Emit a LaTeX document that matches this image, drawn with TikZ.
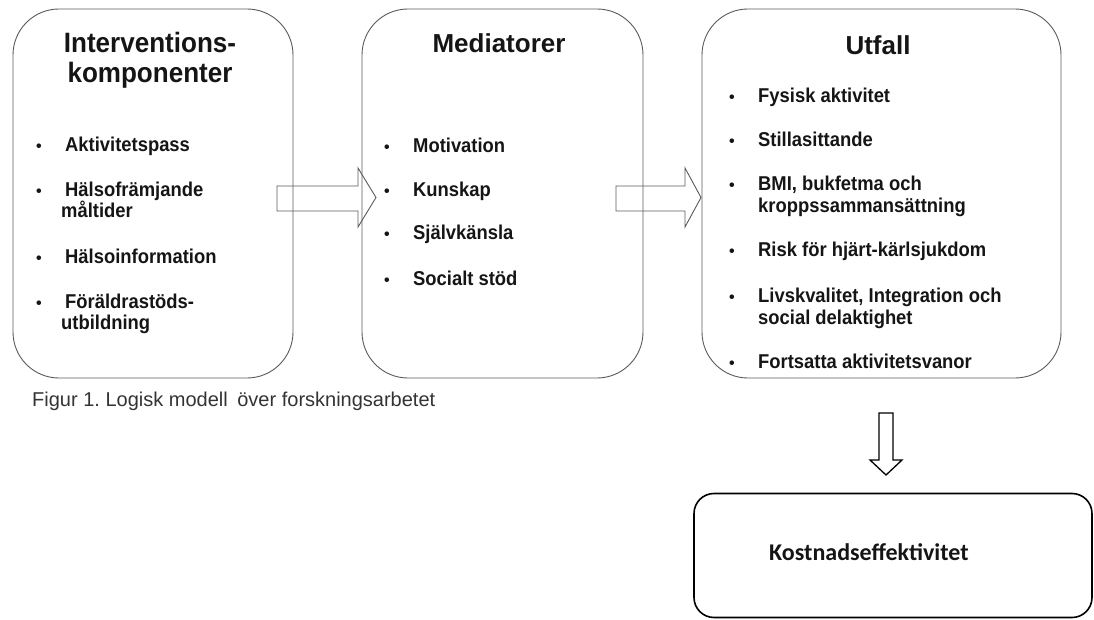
\documentclass[tikz,border=0pt]{standalone}
\usepackage{fontspec}
\setmainfont{Liberation Sans}
\newfontfamily\itemfont[FakeStretch=0.92]{Liberation Sans}
\newfontfamily\titfont[FakeStretch=0.93]{Liberation Sans}
\newfontfamily\calibri{Carlito}
\definecolor{boxgray}{HTML}{5A5A5A}
\definecolor{txt}{HTML}{151515}
\definecolor{captxt}{HTML}{333333}
\frenchspacing
\begin{document}
\begin{tikzpicture}[x=1pt,y=-1pt,
  bigbox/.style={draw=boxgray, line width=0.9pt, rounded corners=46pt, inner sep=0pt},
  costbox/.style={draw=black, line width=1.6pt, rounded corners=20pt, inner sep=0pt},
  titletext/.style={font=\bfseries\fontsize{26}{30}\selectfont, text=txt, anchor=base, inner sep=0pt},
  itemtext/.style={font=\itemfont\bfseries\fontsize{20}{22}\selectfont, text=txt, anchor=base west, inner sep=0pt},
  bul/.style={font=\bfseries\fontsize{16}{21}\selectfont, text=txt, anchor=base, inner sep=0pt},
  blockarrow/.style={draw=boxgray, line width=0.9pt, line join=miter},
  downarrow/.style={draw=black, line width=1.3pt, line join=miter}
]
\useasboundingbox (0,0) rectangle (1094,620);

% boxes
\node[bigbox, minimum width=280pt, minimum height=369pt] (box1) at (153,193.5) {};
\node[bigbox, minimum width=281pt, minimum height=369pt] (box2) at (502.5,193.5) {};
\node[bigbox, minimum width=359pt, minimum height=369pt] (box3) at (881.5,193.5) {};
\node[costbox, minimum width=398pt, minimum height=124pt] (box4) at (893,555.5) {};

% titles
\node[titletext, font=\titfont\bfseries\fontsize{28}{30}\selectfont] (t1a) at (150,53) {Interventions-};
\node[titletext, font=\titfont\bfseries\fontsize{28}{30}\selectfont] (t1b) at (150,83) {komponenter};
\node[titletext] (t2) at (499,53) {Mediatorer};
\node[titletext] (t3) at (878,55) {Utfall};

% box 1 items
\node[bul] (b11) at (39,152) {•};
\node[itemtext] (i11) at (65,152) {Aktivitetspass};
\node[bul] (b12) at (39,197) {•};
\node[itemtext] (i12) at (65,197) {Hälsofrämjande};
\node[itemtext] (i12b) at (61,218) {måltider};
\node[bul] (b13) at (39,263) {•};
\node[itemtext] (i13) at (65,263) {Hälsoinformation};
\node[bul] (b14) at (39,308) {•};
\node[itemtext] (i14) at (65,308) {Föräldrastöds-};
\node[itemtext] (i14b) at (61,329) {utbildning};

% box 2 items
\node[bul] (b21) at (387,153) {•};
\node[itemtext] (i21) at (413,153) {Motivation};
\node[bul] (b22) at (387,197) {•};
\node[itemtext] (i22) at (413,197) {Kunskap};
\node[bul] (b23) at (387,240) {•};
\node[itemtext] (i23) at (413,240) {Självkänsla};
\node[bul] (b24) at (387,285) {•};
\node[itemtext] (i24) at (413,285) {Socialt stöd};

% box 3 items
\node[bul] (b31) at (732,103) {•};
\node[itemtext] (i31) at (758,103) {Fysisk aktivitet};
\node[bul] (b32) at (732,147) {•};
\node[itemtext] (i32) at (758,147) {Stillasittande};
\node[bul] (b33) at (732,191) {•};
\node[itemtext] (i33) at (758,191) {BMI, bukfetma och};
\node[itemtext] (i33b) at (758,213) {kroppssammansättning};
\node[bul] (b34) at (732,257) {•};
\node[itemtext] (i34) at (758,257) {Risk för hjärt-kärlsjukdom};
\node[bul] (b35) at (732,302) {•};
\node[itemtext] (i35) at (758,302) {Livskvalitet, Integration och};
\node[itemtext] (i35b) at (758,324) {social delaktighet};
\node[bul] (b36) at (732,368) {•};
\node[itemtext] (i36) at (758,368) {Fortsatta aktivitetsvanor};

% cost box text
\node[font=\calibri\bfseries\fontsize{24}{28}\selectfont, text=txt, anchor=base west, inner sep=0pt] (t4) at (769,560) {Kostnadseffektivitet};

% caption
\node[font=\fontsize{20}{24}\selectfont, text=captxt, anchor=base west, inner sep=0pt] (cap) at (32,406) {Figur 1. Logisk modell\hspace{4pt} över forskningsarbetet};

% block arrows
\draw[blockarrow] (277,186) -- (358,186) -- (358,168) -- (376,197.5) -- (358,227) -- (358,211) -- (277,211) -- cycle;
\draw[blockarrow] (616,186) -- (685,186) -- (685,168) -- (701,197.5) -- (685,227) -- (685,211) -- (616,211) -- cycle;
\draw[downarrow] (879,413) -- (893,413) -- (893,460) -- (902,460) -- (886,475) -- (870,460) -- (879,460) -- cycle;
\end{tikzpicture}
\end{document}
